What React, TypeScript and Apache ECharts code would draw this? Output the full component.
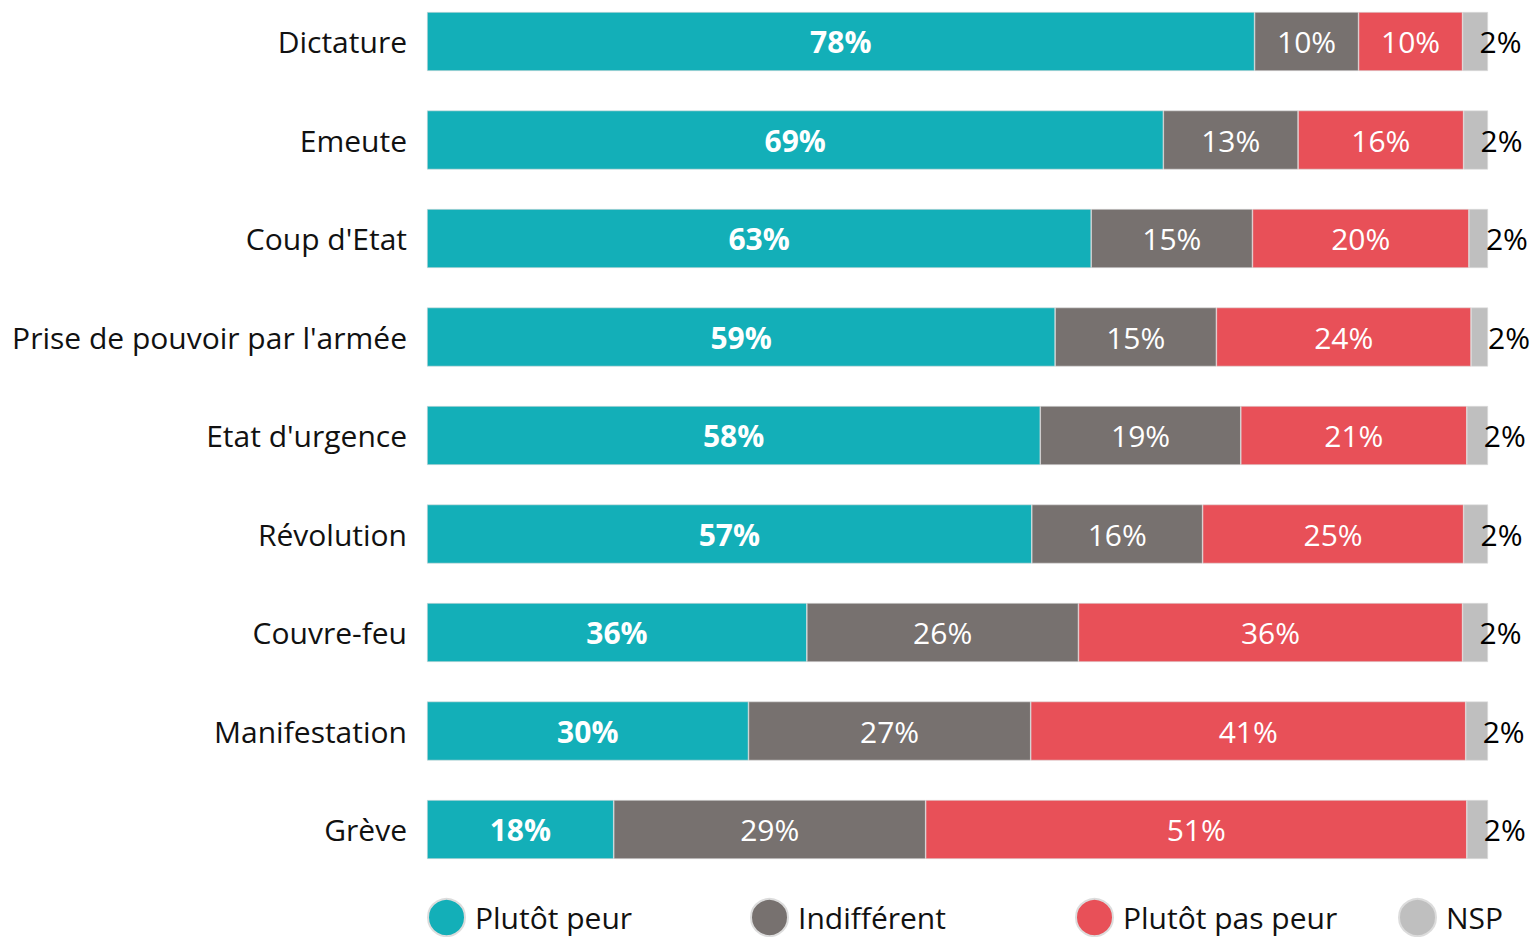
import React, { useEffect, useRef } from "react";
import * as echarts from "echarts";

const categories = [
  "Dictature",
  "Emeute",
  "Coup d'Etat",
  "Prise de pouvoir par l'armée",
  "Etat d'urgence",
  "Révolution",
  "Couvre-feu",
  "Manifestation",
  "Grève",
];
const plutotPeur = [78.0, 69.4, 62.6, 59.2, 57.8, 57.0, 35.8, 30.3, 17.6];
const indifferent = [9.8, 12.7, 15.2, 15.2, 18.9, 16.1, 25.6, 26.6, 29.4];
const plutotPasPeur = [9.8, 15.6, 20.4, 24.0, 21.3, 24.6, 36.2, 41.0, 51.0];
const nsp = [2.4, 2.3, 1.8, 1.6, 2.0, 2.3, 2.4, 2.1, 2.0];

const seriesNames = ["Plutôt peur", "Indifférent", "Plutôt pas peur", "NSP"];
const colors = ["#13AFB8", "#77716F", "#E85058", "#BFBFBF"];
const legendLefts = [427, 750, 1075, 1398];

const FONT = "'Open Sans', 'Noto Sans', sans-serif";

export default function App() {
  const ref = useRef<HTMLDivElement>(null);
  useEffect(() => {
    document.body.style.margin = "0";
    document.body.style.overflow = "hidden";
    if (!ref.current) return;
    const chart = echarts.init(ref.current, undefined, { renderer: "svg" });
    const fmt = (p: any) => Math.round(p.value) + "%";
    const itemStyleFor = (i: number) => ({
      color: colors[i],
      borderColor: "#dcdcdc",
      borderWidth: 0.6,
    });
    const datasets = [plutotPeur, indifferent, plutotPasPeur, nsp];
    const series = datasets.map((d, i) => ({
      name: seriesNames[i],
      type: "bar",
      stack: "total",
      data: d,
      barWidth: 59,
      itemStyle: itemStyleFor(i),
      label:
        i < 3
          ? {
              show: true,
              position: "inside",
              formatter: fmt,
              color: "#ffffff",
              fontSize: 30,
              fontWeight: i === 0 ? "bold" : "normal",
              fontFamily: FONT,
            }
          : {
              show: true,
              position: [17, "50%"],
              align: "left",
              verticalAlign: "middle",
              formatter: fmt,
              color: "#000000",
              fontSize: 30,
              fontFamily: FONT,
            },
    }));
    chart.setOption({
      animation: false,
      textStyle: { fontFamily: FONT },
      color: colors,
      grid: { left: 427, right: 47, top: 0.25, bottom: 58.25, containLabel: false },
      xAxis: { type: "value", min: 0, max: 100, show: false },
      yAxis: {
        type: "category",
        data: categories,
        inverse: true,
        axisLine: { show: false },
        axisTick: { show: false },
        splitLine: { show: false },
        axisLabel: {
          fontSize: 30,
          color: "#111111",
          margin: 20,
          fontFamily: FONT,
          padding: [0, 0, 6, 0],
        },
      },
      legend: seriesNames.map((n, i) => ({
        data: [n],
        left: legendLefts[i],
        top: 906,
        padding: 0,
        icon: "circle",
        itemWidth: 37,
        itemHeight: 37,
        selectedMode: false,
        textStyle: {
          fontSize: 30,
          lineHeight: 32,
          color: "#111111",
          fontFamily: FONT,
          padding: [0, 0, 0, 5],
        },
      })),
      series,
    });
    return () => chart.dispose();
  }, []);
  return (
    <div
      ref={ref}
      style={{ position: "absolute", left: 0, top: -8, width: 1535, height: 945 }}
    />
  );
}
